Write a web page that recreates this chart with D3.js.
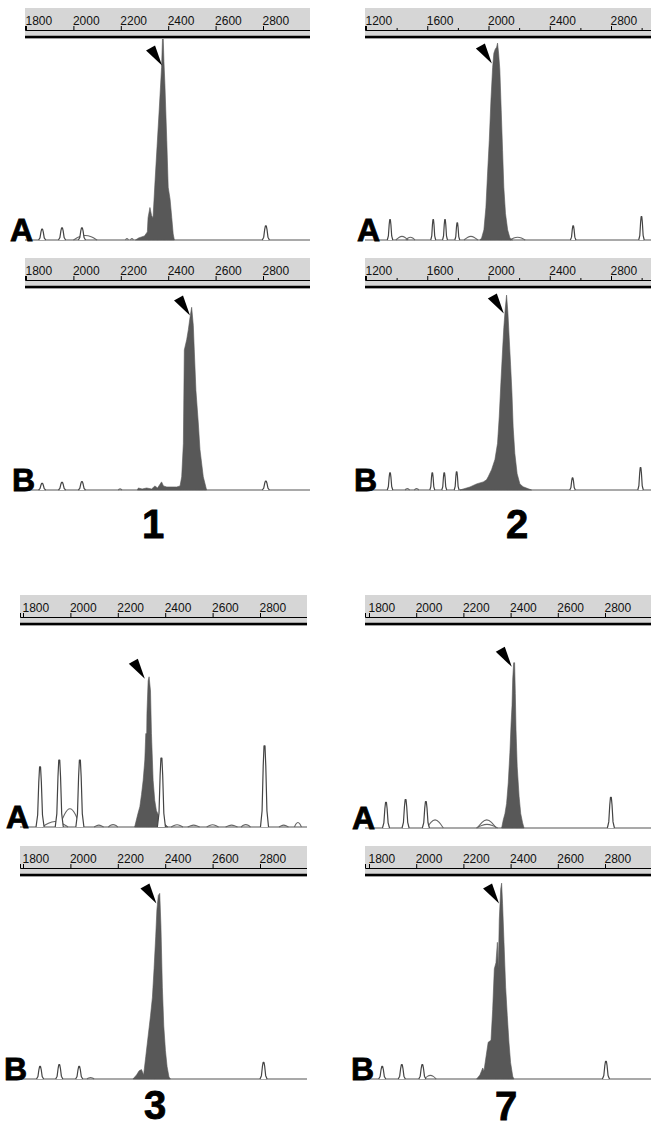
<!DOCTYPE html>
<html>
<head>
<meta charset="utf-8">
<script src="https://cdn.jsdelivr.net/npm/d3@7"></script>
<style>
  body { margin: 0; background: #fff; }
  svg { display: block; }
</style>
</head>
<body>
<div id="chart"></div>
<script>
// ruler tick labels (fragment size, bp)
const ticks1 = [1800, 2000, 2200, 2400, 2600, 2800, 3000];
const ticks2 = [1200, 1600, 2000, 2400, 2800, 3200];
const minor2 = [1400, 1800, 2200, 2600, 3000];

// main filled peak, [size, relative signal %]
const main1A = [[2262,0],[2275,1],[2300,2],[2312,4],[2315,11],[2323,16],[2330,12],[2336,11],[2345,30],[2353,46],[2362,64],[2372,85],[2376,99.5],[2379,99.5],[2382,88],[2386,77],[2394,49],[2400,26],[2408,20],[2415,11],[2421,3],[2426,0]];
const main1B = [[2270,0],[2274,1],[2290,0.5],[2309,1],[2330,0.5],[2344,2],[2355,1],[2372,4],[2380,2],[2394,1.5],[2436,1.5],[2450,2],[2457,6.5],[2464,23],[2468,69],[2478,74],[2485,79],[2492,85],[2499,90],[2506,81],[2510,69],[2517,49],[2527,33],[2534,20],[2548,6.5],[2562,0]];
const main2A = [[1945,0],[1955,1],[1970,5],[1983,16],[1994,33],[2005,49],[2016,69],[2027,85],[2035,92],[2044,94],[2053,95],[2059,97],[2066,92],[2074,84],[2083,64],[2092,44],[2100,26],[2111,13],[2125,5],[2140,1],[2157,0]];
const main2B = [[1813,0],[1879,1.5],[1922,3],[1966,4],[1987,5],[1998,6.5],[2020,10],[2042,15],[2059,23],[2070,36],[2081,53],[2092,69],[2100,80],[2109,89],[2118,96],[2127,87],[2135,75],[2144,62],[2153,48],[2161,31],[2172,18],[2187,8],[2205,3],[2226,1.6],[2281,0]];
const main3A = [[2271,0],[2285,6.6],[2293,10],[2300,16],[2307,23],[2314,33],[2318,46],[2322,46],[2323,56],[2328,72],[2332,74],[2338,67],[2342,46],[2349,23],[2356,13],[2363,8],[2377,4.6],[2398,1.6],[2412,0]];
const main3B = [[2264,0],[2279,2],[2290,4],[2300,4.6],[2309,2],[2318,11],[2328,21],[2338,31],[2346,40],[2353,54],[2360,70],[2365,83],[2371,90],[2377,91],[2382,75],[2388,45],[2394,26],[2401,14],[2408,6],[2416,1],[2422,0]];
const main7A = [[2362,0],[2369,4],[2376,7],[2383,12],[2390,22],[2397,37],[2402,51],[2406,60],[2409,73],[2413,81],[2417,81],[2420,66],[2423,48],[2428,30],[2436,15.5],[2443,7],[2451,2.5],[2457,0]];
const main7B = [[2256,0],[2270,2],[2282,5.4],[2287,3.8],[2296,11],[2305,18],[2317,19],[2324,34],[2331,54],[2338,57],[2344,67],[2348,54],[2352,78],[2358,93],[2362,96],[2366,86],[2372,67],[2379,45],[2386,31],[2393,18],[2400,8],[2409,1.3],[2414,0]];

// size-standard peaks (outlined), [size, height %, half width bp]
const peaks1A = [[1868,5.4,15],[1952,6,15],[2036,6,15],[2812,7,15]];
const peaks1B = [[1868,3.3,15],[1952,3.8,15],[2036,4.1,15],[2812,4.4,15]];
const peaks2A = [[1357,10,18],[1639,10,16],[1716,10,16],[1796,8.5,16],[2553,7,18],[2999,11.5,18]];
const peaks2B = [[1357,8.5,18],[1633,8.5,16],[1711,8.5,16],[1792,9,16],[2549,6,18],[2993,11,18]];
const peaks3A = [[1872,29.6,17],[1953,33,17],[2040,33,17],[2384,34,17],[2819,40,17]];
const peaks3B = [[1872,6.2,15],[1953,7,15],[2037,6.2,15],[2815,8.2,15]];
const peaks7A = [[1872,12.6,15],[1955,13.9,15],[2041,13,15],[2825,15,15]];
const peaks7B = [[1856,6.2,15],[1939,7,15],[2026,7,15],[2804,8.7,15]];

// low broad humps / background, [size, height %, half width bp]
const humps1A = [[2050,2.5,50],[2226,0.8,6],[2247,0.8,6]];
const humps1B = [[2197,0.6,8]];
const humps2A = [[1435,2,40],[1490,1.5,30],[1885,2,45],[2190,1.5,50]];
const humps2B = [[1470,0.8,15],[1530,0.8,15]];
const humps3A = [[1998,10,45],[1935,3,55],[2120,1,20],[2180,1.3,20],[2450,1.2,25],[2520,1,25],[2600,1.2,25],[2680,1,25],[2740,1.3,20],[2900,1,20],[2960,2.5,15]];
const humps3B = [[2085,0.8,15]];
const humps7A = [[2080,4.4,35],[2299,4.4,40],[2300,2,45]];
const humps7B = [[2060,2,25]];

// arrowhead tips, [size, height %]
const arrowTips = [[2374,86],[2492,86],[2022,87],[2100,87],[2314,73],[2363,86],[2405,79],[2351,86]];

const W = 651, H = 1129;
const svg = d3.select("#chart").append("svg").attr("width", W).attr("height", H);

const panels = [
  {lab: "A", ticks: ticks1, anchor: [[1800, 26], [2800, 263]], band: [25, 310], top: 8, base: 240, main: main1A, peaks: peaks1A, humps: humps1A, lx: 10},
  {lab: "B", ticks: ticks1, anchor: [[1800, 26], [2800, 263]], band: [25, 310], top: 258, base: 490, main: main1B, peaks: peaks1B, humps: humps1B, lx: 12},
  {lab: "A", ticks: ticks2, minor: minor2, anchor: [[1200, 366], [2800, 611]], band: [365, 651], top: 8, base: 240, main: main2A, peaks: peaks2A, humps: humps2A, lx: 357},
  {lab: "B", ticks: ticks2, minor: minor2, anchor: [[1200, 366], [2800, 611]], band: [365, 651], top: 258, base: 490, main: main2B, peaks: peaks2B, humps: humps2B, lx: 354},
  {lab: "A", ticks: ticks1, anchor: [[1800, 23], [2800, 260]], band: [20, 307], top: 595, base: 827, main: main3A, peaks: peaks3A, humps: humps3A, lx: 6},
  {lab: "B", ticks: ticks1, anchor: [[1800, 23], [2800, 260]], band: [20, 307], top: 846, base: 1079, main: main3B, peaks: peaks3B, humps: humps3B, lx: 4},
  {lab: "A", ticks: ticks1, anchor: [[1800, 369], [2800, 605]], band: [365, 651], top: 595, base: 828, main: main7A, peaks: peaks7A, humps: humps7A, lx: 352},
  {lab: "B", ticks: ticks1, anchor: [[1800, 369], [2800, 605]], band: [365, 651], top: 846, base: 1079, main: main7B, peaks: peaks7B, humps: humps7B, lx: 351}
];

const numbers = [{t: "1", x: 153, y: 538}, {t: "2", x: 517, y: 538}, {t: "3", x: 155, y: 1119}, {t: "7", x: 506, y: 1120}];

function peakPts(p) {
  const [c, h, w] = p;
  return [[c - w, 0], [c - 0.6 * w, 0.2 * h], [c - 0.32 * w, 0.75 * h], [c - 0.12 * w, h], [c + 0.12 * w, h], [c + 0.32 * w, 0.75 * h], [c + 0.6 * w, 0.2 * h], [c + w, 0]];
}
function humpPts(p) {
  const [c, h, w] = p;
  return [[c - w, 0], [c - 0.5 * w, 0.7 * h], [c, h], [c + 0.5 * w, 0.7 * h], [c + w, 0]];
}

panels.forEach((p, i) => {
  const a = d3.scaleLinear().domain([p.anchor[0][0], p.anchor[1][0]]).range([p.anchor[0][1], p.anchor[1][1]]);
  const x = d3.scaleLinear().domain([a.invert(p.band[0]), a.invert(p.band[1])]).range(p.band);
  const thin = p.top + 22, thick = p.top + 29;
  const y = d3.scaleLinear().domain([0, 100]).range([p.base, thick]);
  const g = svg.append("g");

  // baseline
  g.append("line").attr("x1", p.band[0]).attr("x2", p.band[1])
    .attr("y1", y(0)).attr("y2", y(0))
    .attr("stroke", "#8c8c8c").attr("stroke-width", 1.6);

  const smooth = d3.line().x(d => x(d[0])).y(d => y(d[1])).curve(d3.curveBasis);
  g.selectAll(".hump").data(p.humps).enter().append("path")
    .attr("d", d => smooth(humpPts(d)))
    .attr("fill", "none").attr("stroke", "#666").attr("stroke-width", 1.1);

  const area = d3.area().x(d => x(d[0])).y0(y(0)).y1(d => y(d[1]));
  g.append("path").datum(p.main).attr("d", area)
    .attr("fill", "#585858").attr("stroke", "#585858").attr("stroke-width", 0.6);

  const sharp = d3.line().x(d => x(d[0])).y(d => y(d[1]));
  g.selectAll(".peak").data(p.peaks).enter().append("path")
    .attr("d", d => sharp(peakPts(d)))
    .attr("fill", "#fff").attr("stroke", "#444").attr("stroke-width", 1.2)
    .attr("stroke-linejoin", "round");

  // arrowhead
  const t = arrowTips[i];
  const tx = x(t[0]), ty = y(t[1]);
  g.append("path")
    .attr("d", `M${tx},${ty}L${tx - 16},${ty - 15}L${tx - 7},${ty - 20}Z`)
    .attr("fill", "#000");

  // ruler
  const clipId = "clip" + i;
  svg.append("clipPath").attr("id", clipId).append("rect")
    .attr("x", p.band[0]).attr("y", p.top).attr("width", p.band[1] - p.band[0]).attr("height", 32);
  const r = svg.append("g").attr("clip-path", `url(#${clipId})`);
  r.append("rect").attr("x", p.band[0]).attr("y", p.top)
    .attr("width", p.band[1] - p.band[0]).attr("height", 31)
    .attr("fill", "#d6d6d6");
  // labels only where they fit inside the ruler
  const fmt = d => (x(d) + 28 <= p.band[1] ? String(d) : "");
  const ax = r.append("g").attr("transform", `translate(0,${thin})`)
    .call(d3.axisTop(x).tickValues(p.ticks.filter(d => x(d) <= p.band[1])).tickSize(4).tickSizeOuter(4).tickFormat(fmt));
  ax.select(".domain").attr("stroke", "#000").attr("stroke-width", 1);
  ax.selectAll(".tick line").attr("stroke", "#000");
  ax.selectAll(".tick text")
    .attr("text-anchor", "start").attr("x", -1).attr("y", -5.5).attr("dy", 0)
    .attr("font-family", "Liberation Sans, Arial, sans-serif").attr("font-size", 12)
    .attr("fill", "#111");
  if (p.minor) {
    const mn = r.append("g").attr("transform", `translate(0,${thin})`)
      .call(d3.axisTop(x).tickValues(p.minor).tickSize(2).tickFormat(""));
    mn.select(".domain").remove();
    mn.selectAll(".tick line").attr("stroke", "#000");
  }
  r.append("line").attr("x1", p.band[0]).attr("x2", p.band[1])
    .attr("y1", thick).attr("y2", thick)
    .attr("stroke", "#000").attr("stroke-width", 2.5);

  // panel letter
  svg.append("text").attr("x", p.lx).attr("y", p.base + 1).text(p.lab)
    .attr("font-family", "Liberation Sans, Arial, sans-serif").attr("font-weight", "bold")
    .attr("font-size", 32).attr("fill", "#000").attr("stroke", "#000").attr("stroke-width", 0.8);
});

svg.selectAll(".num").data(numbers).enter().append("text")
  .attr("x", d => d.x).attr("y", d => d.y).attr("text-anchor", "middle").text(d => d.t)
  .attr("font-family", "Liberation Sans, Arial, sans-serif").attr("font-weight", "bold")
  .attr("font-size", 40).attr("fill", "#000").attr("stroke", "#000").attr("stroke-width", 0.8);
</script>
</body>
</html>
